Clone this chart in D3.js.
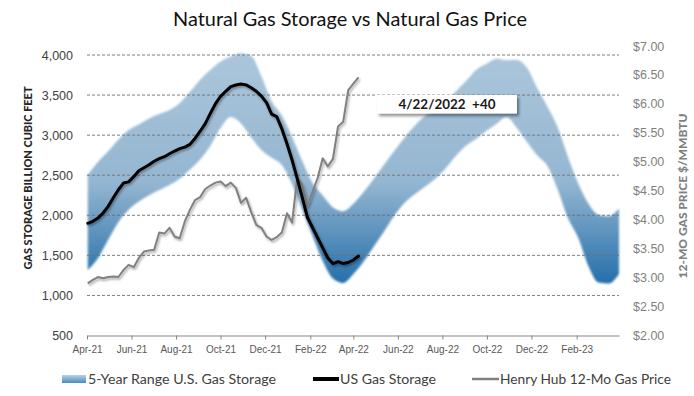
<!DOCTYPE html>
<html>
<head>
<meta charset="utf-8">
<script src="https://cdn.jsdelivr.net/npm/d3@7"></script>
<style>
  body { margin: 0; background: #fff; }
  svg { font-family: Lato, "Open Sans", sans-serif; }
</style>
</head>
<body>
<div id="chart"></div>
<script>
// weekly series, first week ending 4/2/2021
const seriesStart = "2021-04-02";
const storageValues = [
    1900, 1925, 1965, 2029, 2111, 2218, 2319, 2402, 2417, 2482,
    2556, 2593, 2631, 2674, 2706, 2731, 2768, 2802, 2831, 2851,
    2885, 2959, 3049, 3144, 3271, 3392, 3484, 3547, 3606, 3626,
    3637, 3627, 3591, 3548, 3487, 3405, 3263, 3231, 3079, 2892,
    2690, 2460, 2221, 1975, 1848, 1720, 1593, 1467, 1398, 1423,
    1398, 1411, 1442, 1492
];
const priceValues = [
    2.90, 2.96, 3.01, 2.99, 3.01, 3.02, 3.01, 3.13, 3.22, 3.18,
    3.34, 3.45, 3.47, 3.48, 3.78, 3.76, 3.86, 3.71, 3.68, 3.97,
    4.17, 4.34, 4.39, 4.53, 4.59, 4.64, 4.66, 4.58, 4.64, 4.55,
    4.29, 4.38, 4.13, 3.91, 3.86, 3.71, 3.65, 3.70, 3.78, 4.11,
    3.95, 4.72, 4.60, 4.24, 4.48, 4.72, 5.06, 4.92, 5.05, 5.61,
    5.69, 6.24, 6.35, 6.46
];

// 5-year range, every two weeks
const bandStart = "2021-04-02";
const bandUpper = [
    2505, 2665, 2798, 2942, 3064, 3134, 3208, 3264, 3313, 3399,
    3540, 3692, 3813, 3918, 3981, 4021, 3988, 3734, 3424, 3246,
    2981, 2677, 2405, 2246, 2097, 2051, 2143, 2291, 2455, 2631,
    2802, 2969, 3117, 3238, 3318, 3422, 3541, 3672, 3814, 3888,
    3953, 3935, 3938, 3840, 3588, 3355, 3098, 2730, 2399, 2147,
    2004, 1989, 2085
];
const bandLower = [
    1317, 1465, 1694, 1914, 2069, 2171, 2251, 2314, 2377, 2455,
    2570, 2697, 2865, 3089, 3226, 3145, 2971, 2815, 2719, 2628,
    2388, 2062, 1742, 1430, 1211, 1155, 1267, 1423, 1611, 1799,
    1994, 2153, 2261, 2356, 2453, 2580, 2736, 2865, 2952, 3052,
    3139, 3226, 3089, 2915, 2746, 2615, 2322, 1966, 1723, 1367,
    1161, 1149, 1267
];

const xTickLabels = ["Apr-21", "Jun-21", "Aug-21", "Oct-21", "Dec-21", "Feb-22",
    "Apr-22", "Jun-22", "Aug-22", "Oct-22", "Dec-22", "Feb-23"];
const leftTicks = [500, 1000, 1500, 2000, 2500, 3000, 3500, 4000];
const rightTicks = [2, 2.5, 3, 3.5, 4, 4.5, 5, 5.5, 6, 6.5, 7];
const annotationText = "4/22/2022  +40";

const width = 694, height = 396;
const parseDay = d3.timeParse("%Y-%m-%d");
const parseMonth = d3.timeParse("%b-%y");

const weekDates = storageValues.map((d, i) => d3.timeDay.offset(parseDay(seriesStart), 7 * i));
const bandData = bandUpper.map((hi, i) => ({
    date: d3.timeDay.offset(parseDay(bandStart), 14 * i),
    hi: hi,
    lo: bandLower[i]
}));

const svg = d3.select("#chart").append("svg")
    .attr("width", width)
    .attr("height", height);

const x = d3.scaleTime()
    .domain([new Date(2021, 3, 1), new Date(2023, 2, 31)])
    .range([87, 619]);
const yL = d3.scaleLinear().domain([500, 4000]).range([335.5, 55]);
const yR = d3.scaleLinear().domain([2, 7]).range([335.5, 46]);

// defs: gradients + soft shadows
const defs = svg.append("defs");
const grad = defs.append("linearGradient")
    .attr("id", "bandFill")
    .attr("gradientUnits", "userSpaceOnUse")
    .attr("x1", 0).attr("x2", 0)
    .attr("y1", yL(4000)).attr("y2", yL(1100));
grad.append("stop").attr("offset", "0%").attr("stop-color", "#abc6db");
grad.append("stop").attr("offset", "55%").attr("stop-color", "#94b6d1");
grad.append("stop").attr("offset", "100%").attr("stop-color", "#206ca8");

const legGrad = defs.append("linearGradient")
    .attr("id", "legendFill")
    .attr("x1", 0).attr("x2", 0).attr("y1", 0).attr("y2", 1);
legGrad.append("stop").attr("offset", "0%").attr("stop-color", "#b9d1e3");
legGrad.append("stop").attr("offset", "100%").attr("stop-color", "#4a8bc0");

const soft = defs.append("filter").attr("id", "soft")
    .attr("x", "-5%").attr("y", "-5%").attr("width", "110%").attr("height", "110%");
soft.append("feGaussianBlur").attr("stdDeviation", 0.8);

const shadow = defs.append("filter").attr("id", "shadow")
    .attr("x", "-10%").attr("y", "-10%").attr("width", "130%").attr("height", "130%");
shadow.append("feDropShadow")
    .attr("dx", 1.2).attr("dy", 1.8).attr("stdDeviation", 1.2)
    .attr("flood-color", "#000").attr("flood-opacity", 0.35);

const boxShadow = defs.append("filter").attr("id", "boxShadow")
    .attr("x", "-10%").attr("y", "-30%").attr("width", "130%").attr("height", "180%");
boxShadow.append("feDropShadow")
    .attr("dx", 2).attr("dy", 2.5).attr("stdDeviation", 1.5)
    .attr("flood-color", "#000").attr("flood-opacity", 0.45);

// 5-year band
const area = d3.area()
    .x(d => x(d.date))
    .y0(d => yL(d.lo))
    .y1(d => yL(d.hi))
    .curve(d3.curveMonotoneX);

svg.append("path")
    .datum(bandData)
    .attr("d", area)
    .attr("fill", "url(#bandFill)")
    .attr("filter", "url(#soft)");

// gridlines
svg.append("g")
    .selectAll("line")
    .data(leftTicks.filter(d => d > 500))
    .enter()
    .append("line")
    .attr("x1", 87).attr("x2", 619)
    .attr("y1", d => yL(d)).attr("y2", d => yL(d))
    .attr("stroke", "#6f6f6f")
    .attr("stroke-width", 0.9)
    .attr("stroke-dasharray", "3,2");

// axes
const leftAxis = svg.append("g")
    .attr("transform", "translate(87,0)")
    .call(d3.axisLeft(yL).tickValues(leftTicks).tickSize(0).tickPadding(14).tickFormat(d3.format(",")));
leftAxis.select(".domain").remove();
leftAxis.selectAll("text").attr("fill", "#404040").style("font-size", "12.5px");

const rightAxis = svg.append("g")
    .attr("transform", "translate(619,0)")
    .call(d3.axisRight(yR).tickValues(rightTicks).tickSize(0).tickPadding(14)
        .tickFormat(d => "$" + d3.format(".2f")(d)));
rightAxis.select(".domain").remove();
rightAxis.selectAll("text").attr("fill", "#7f7f7f").style("font-size", "12.5px");

const tickDates = xTickLabels.map(parseMonth);
const bottomAxis = svg.append("g")
    .attr("transform", "translate(0,335.5)")
    .call(d3.axisBottom(x).tickValues(tickDates).tickSize(4).tickSizeOuter(0).tickPadding(6)
        .tickFormat((d, i) => xTickLabels[i]));
bottomAxis.select(".domain").attr("stroke", "#868686");
bottomAxis.selectAll(".tick line").attr("stroke", "#868686");
bottomAxis.selectAll("text").attr("fill", "#595959").style("font-size", "10px");

// Henry Hub price (secondary axis)
const priceLine = d3.line()
    .x((d, i) => x(weekDates[i]))
    .y(d => yR(d));
svg.append("path")
    .datum(priceValues)
    .attr("d", priceLine)
    .attr("fill", "none")
    .attr("stroke", "#808080")
    .attr("stroke-width", 2)
    .attr("stroke-linejoin", "round")
    .attr("filter", "url(#shadow)");

// US storage
const storageLine = d3.line()
    .x((d, i) => x(weekDates[i]))
    .y(d => yL(d));
svg.append("path")
    .datum(storageValues)
    .attr("d", storageLine)
    .attr("fill", "none")
    .attr("stroke", "#000")
    .attr("stroke-width", 3)
    .attr("stroke-linejoin", "round")
    .attr("stroke-linecap", "round")
    .attr("filter", "url(#shadow)");

// annotation box
svg.append("rect")
    .attr("x", 377).attr("y", 95)
    .attr("width", 140).attr("height", 18.5)
    .attr("fill", "#fff")
    .attr("filter", "url(#boxShadow)");
svg.append("text")
    .attr("x", 447).attr("y", 109)
    .attr("text-anchor", "middle")
    .style("white-space", "pre")
    .style("font-size", "13px")
    .style("font-weight", "bold")
    .attr("fill", "#1a1a1a")
    .attr("textLength", 97)
    .attr("lengthAdjust", "spacingAndGlyphs")
    .text(annotationText);

// title
svg.append("text")
    .attr("x", 350).attr("y", 26)
    .attr("text-anchor", "middle")
    .style("font-size", "19px")
    .attr("fill", "#111")
    .attr("textLength", 354)
    .attr("lengthAdjust", "spacingAndGlyphs")
    .text("Natural Gas Storage vs Natural Gas Price");

// axis titles
svg.append("text")
    .attr("transform", "translate(31.5,178) rotate(-90)")
    .attr("text-anchor", "middle")
    .style("font-size", "12px")
    .style("font-weight", "900")
    .attr("fill", "#262626")
    .attr("textLength", 183)
    .attr("lengthAdjust", "spacingAndGlyphs")
    .text("GAS STORAGE BILLION CUBIC FEET");

svg.append("text")
    .attr("transform", "translate(686.5,196) rotate(-90)")
    .attr("text-anchor", "middle")
    .style("font-size", "12px")
    .style("font-weight", "900")
    .attr("fill", "#7f7f7f")
    .attr("textLength", 165)
    .attr("lengthAdjust", "spacingAndGlyphs")
    .text("12-MO GAS PRICE $/MMBTU");

// legend
const legend = svg.append("g").style("font-size", "13.5px").attr("fill", "#404040");
legend.append("rect")
    .attr("x", 62).attr("y", 375).attr("width", 24).attr("height", 8)
    .attr("fill", "url(#legendFill)");
legend.append("text").attr("x", 88).attr("y", 383.8)
    .attr("textLength", 188).attr("lengthAdjust", "spacingAndGlyphs")
    .text("5-Year Range U.S. Gas Storage");

legend.append("line")
    .attr("x1", 313).attr("x2", 339).attr("y1", 379).attr("y2", 379)
    .attr("stroke", "#000").attr("stroke-width", 4);
legend.append("text").attr("x", 340).attr("y", 383.8)
    .attr("textLength", 96).attr("lengthAdjust", "spacingAndGlyphs")
    .text("US Gas Storage");

legend.append("line")
    .attr("x1", 472).attr("x2", 499).attr("y1", 379).attr("y2", 379)
    .attr("stroke", "#808080").attr("stroke-width", 2.5);
legend.append("text").attr("x", 500).attr("y", 383.8)
    .attr("textLength", 171).attr("lengthAdjust", "spacingAndGlyphs")
    .text("Henry Hub 12-Mo Gas Price");
</script>
</body>
</html>
